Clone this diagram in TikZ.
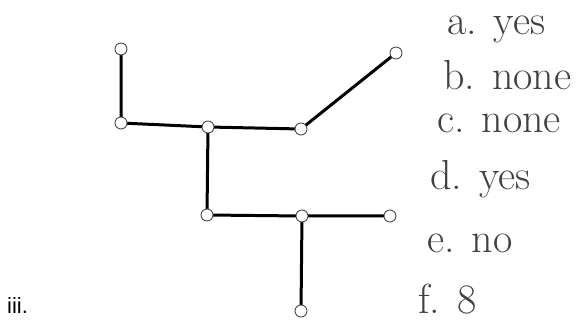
\documentclass[tikz,border=0pt]{standalone}
\usepackage{fontspec}
\newfontfamily\labelfont{Liberation Sans}
\begin{document}
\begin{tikzpicture}[x=1pt, y=-1pt, vert/.style={circle, draw=black!70, line width=0.9pt, fill=white, minimum size=12pt, inner sep=0pt}, edge/.style={line width=3pt}, answer/.style={anchor=base west, inner sep=0pt, text=black!75, font=\fontsize{42}{44}\selectfont}]
        \useasboundingbox (0,0) rectangle (584,323);
        \foreach \i/\x/\y in {1/121/49,2/121/123,3/208/127,4/301/129,5/396/53,6/207/215,7/302/216,8/390/216,9/301/311} {
            \coordinate (p\i) at (\x,\y);
        }
        \draw[edge] (p1)--(p2)--(p3)--(p4)--(p5);
        \draw[edge] (p3)--(p6)--(p7)--(p8);
        \draw[edge] (p7)--(p9);
        \foreach \i in {1,...,9} {
            \node[vert] (v\i) at (p\i) {};
        }
        \node[anchor=base west, inner sep=0pt, font=\labelfont\fontsize{22}{24}\selectfont] (num) at (7,313) {iii.};
        \node[answer] (a) at (447,35) {a. yes};
        \node[answer] (b) at (443,90) {b. none};
        \node[answer] (c) at (437,133) {c. none};
        \node[answer] (d) at (430,190) {d. yes};
        \node[answer] (e) at (427,253) {e. no};
        \node[answer] (f) at (418,313) {f. 8};
    \end{tikzpicture}
\end{document}
